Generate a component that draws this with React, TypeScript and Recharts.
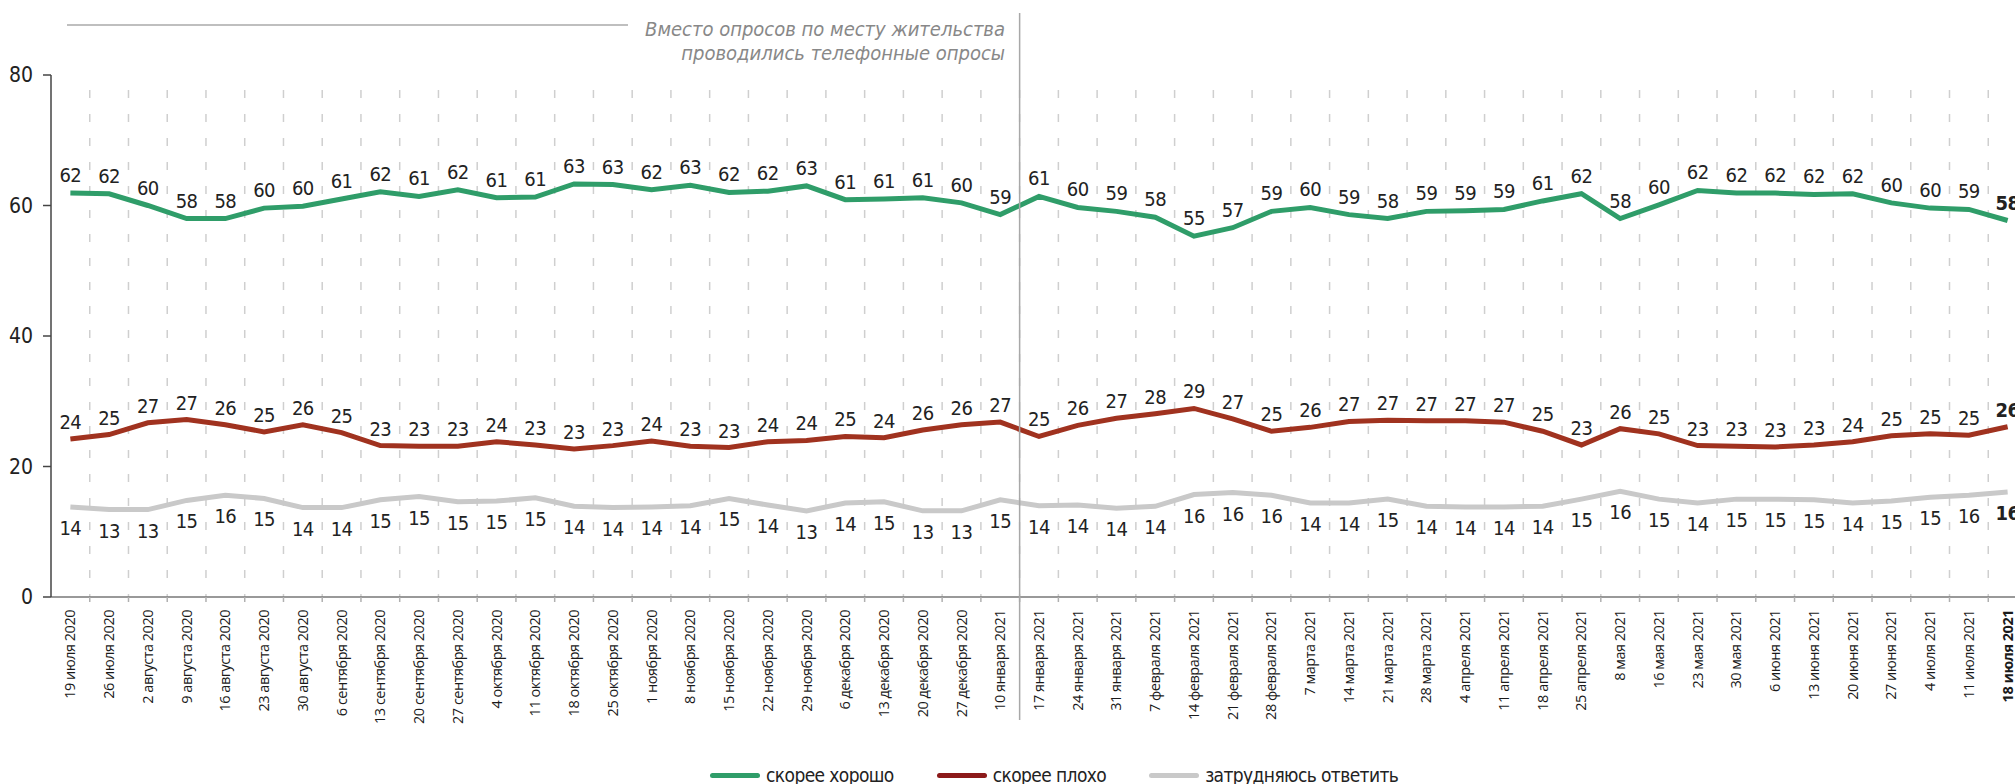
import React from 'react';
import { LineChart, Line, XAxis, YAxis, CartesianGrid, LabelList } from 'recharts';

const dates = [
  '19 июля 2020', '26 июля 2020', '2 августа 2020', '9 августа 2020', '16 августа 2020',
  '23 августа 2020', '30 августа 2020', '6 сентября 2020', '13 сентября 2020', '20 сентября 2020',
  '27 сентября 2020', '4 октября 2020', '11 октября 2020', '18 октября 2020', '25 октября 2020',
  '1 ноября 2020', '8 ноября 2020', '15 ноября 2020', '22 ноября 2020', '29 ноября 2020',
  '6 декабря 2020', '13 декабря 2020', '20 декабря 2020', '27 декабря 2020', '10 января 2021',
  '17 января 2021', '24 января 2021', '31 января 2021', '7 февраля 2021', '14 февраля 2021',
  '21 февраля 2021', '28 февраля 2021', '7 марта 2021', '14 марта 2021', '21 марта 2021',
  '28 марта 2021', '4 апреля 2021', '11 апреля 2021', '18 апреля 2021', '25 апреля 2021',
  '8 мая 2021', '16 мая 2021', '23 мая 2021', '30 мая 2021', '6 июня 2021',
  '13 июня 2021', '20 июня 2021', '27 июня 2021', '4 июля 2021', '11 июля 2021',
  '18 июля 2021',
];

// скорее хорошо
const good = [
  61.9, 61.8, 60.0, 58.0, 58.0, 59.6, 59.9, 61.0, 62.1, 61.4,
  62.4, 61.2, 61.3, 63.3, 63.2, 62.4, 63.1, 62.0, 62.2, 63.0,
  60.9, 61.0, 61.2, 60.4, 58.6, 61.4, 59.7, 59.1, 58.2, 55.3,
  56.6, 59.1, 59.7, 58.6, 58.0, 59.1, 59.2, 59.4, 60.7, 61.8,
  58.0, 60.1, 62.3, 61.9, 61.9, 61.7, 61.8, 60.4, 59.6, 59.4,
  57.7,
];

// скорее плохо
const bad = [
  24.2, 24.9, 26.7, 27.2, 26.4, 25.3, 26.4, 25.2, 23.2, 23.1,
  23.1, 23.8, 23.3, 22.7, 23.2, 23.9, 23.1, 22.9, 23.8, 24.0,
  24.6, 24.4, 25.6, 26.4, 26.8, 24.6, 26.3, 27.4, 28.1, 28.9,
  27.3, 25.4, 26.0, 26.9, 27.1, 27.0, 27.0, 26.8, 25.4, 23.3,
  25.8, 25.0, 23.2, 23.1, 23.0, 23.3, 23.8, 24.7, 25.0, 24.8,
  26.1,
];

// затрудняюсь ответить
const hard = [
  13.8, 13.4, 13.4, 14.8, 15.6, 15.1, 13.7, 13.7, 14.9, 15.4,
  14.6, 14.7, 15.2, 13.9, 13.7, 13.8, 14.0, 15.1, 14.1, 13.2,
  14.4, 14.6, 13.2, 13.2, 14.9, 14.0, 14.1, 13.6, 13.9, 15.7,
  16.0, 15.6, 14.4, 14.4, 15.0, 13.9, 13.8, 13.8, 13.9, 15.0,
  16.2, 15.0, 14.4, 15.0, 15.0, 14.9, 14.4, 14.7, 15.3, 15.6,
  16.1,
];

const yTicks = [0, 20, 40, 60, 80];

const series = [
  { key: 'good', name: 'скорее хорошо', color: '#2f9d69', legend: '#2f9d69', labelDy: -11 },
  { key: 'bad', name: 'скорее плохо', color: '#a0321f', legend: '#8c1a1a', labelDy: -10 },
  { key: 'hard', name: 'затрудняюсь ответить', color: '#c9c9c9', legend: '#c9c9c9', labelDy: 28 },
];

const data = dates.map((date, i) => ({ date, good: good[i], bad: bad[i], hard: hard[i] }));

const N = dates.length;
const CHART_W = 2040;
const CHART_H = 784;
const PLOT_LEFT = 51;
const PLOT_RIGHT_MARGIN = 13;
const PLOT_W = CHART_W - PLOT_LEFT - PLOT_RIGHT_MARGIN;
const STEP = PLOT_W / N;

const NARROW = "'Liberation Sans Narrow', 'DejaVu Sans Condensed', 'Arial Narrow', sans-serif";
const SANS = "'Open Sans', 'Noto Sans', sans-serif";

const DateTick = (props: any) => {
  const { x, y, payload, index } = props;
  const last = index === N - 1;
  return (
    <g>
      <line x1={x + STEP / 2} x2={x + STEP / 2} y1={y} y2={y + 5} stroke="#b0b0b0" strokeWidth={1.5} />
      <text
        x={x + 5}
        y={y + 13}
        transform={`rotate(-90 ${x + 5} ${y + 13})`}
        textAnchor="end"
        fontFamily={SANS}
        fontSize={14.5}
        letterSpacing={-0.5}
        fontWeight={last ? 700 : 400}
        fill="#1a1a1a"
      >
        {payload.value}
      </text>
    </g>
  );
};

const makeLabel = (dy: number) => (props: any) => {
  const { x, y, value, index } = props;
  if (x == null || y == null) return null;
  const last = index === N - 1;
  return (
    <text
      x={x}
      y={y + dy}
      textAnchor="middle"
      fontFamily={NARROW}
      fontSize={20}
      letterSpacing={-0.5}
      fontWeight={last ? 700 : 400}
      fill="#222"
    >
      {Math.round(value)}
    </text>
  );
};

export default function App() {
  const splitX = PLOT_LEFT + 25 * STEP;
  return (
    <div
      style={{
        position: 'absolute',
        left: 0,
        top: 0,
        width: 2015,
        height: 784,
        overflow: 'hidden',
        background: '#fff',
      }}
    >
      <LineChart
        width={CHART_W}
        height={CHART_H}
        data={data}
        margin={{ top: 75, right: PLOT_RIGHT_MARGIN, bottom: 57, left: 0 }}
      >
        <CartesianGrid
          horizontal={false}
          stroke="#cfcfcf"
          strokeWidth={1.5}
          strokeDasharray="0 15 8 1"
          verticalCoordinatesGenerator={({ offset }: any) => {
            const left = offset?.left ?? PLOT_LEFT;
            const w = offset?.width ?? PLOT_W;
            return dates.slice(1).map((_, k) => left + ((k + 1) * w) / N);
          }}
        />
        <XAxis
          dataKey="date"
          interval={0}
          height={130}
          tickSize={0}
          tickMargin={0}
          padding={{ left: STEP / 2, right: STEP / 2 }}
          axisLine={{ stroke: '#777', strokeWidth: 1.5 }}
          tick={<DateTick />}
        />
        <YAxis
          type="number"
          domain={[0, 80]}
          ticks={yTicks}
          width={PLOT_LEFT}
          tickSize={8}
          tickMargin={10}
          axisLine={{ stroke: '#444', strokeWidth: 1.5 }}
          tickLine={{ stroke: '#444', strokeWidth: 1.5 }}
          tick={{ fontFamily: NARROW, fontSize: 21, fill: '#222' }}
        />
        {series.map((s) => (
          <Line
            key={s.key}
            type="linear"
            dataKey={s.key}
            name={s.name}
            stroke={s.color}
            strokeWidth={5}
            dot={false}
            activeDot={false}
            isAnimationActive={false}
          >
            <LabelList dataKey={s.key} content={makeLabel(s.labelDy)} />
          </Line>
        ))}
      </LineChart>

      <svg
        width={2015}
        height={784}
        style={{ position: 'absolute', left: 0, top: 0, pointerEvents: 'none' }}
      >
        <line x1={67} x2={628} y1={25} y2={25} stroke="#aaa" strokeWidth={1.5} />
        <line x1={splitX} x2={splitX} y1={13} y2={720} stroke="#a8a8a8" strokeWidth={1.5} />
        <text
          x={1005}
          y={36}
          textAnchor="end"
          fontFamily={NARROW}
          fontStyle="italic"
          fontSize={20}
          fill="#888"
        >
          Вместо опросов по месту жительства
        </text>
        <text
          x={1005}
          y={60}
          textAnchor="end"
          fontFamily={NARROW}
          fontStyle="italic"
          fontSize={20}
          fill="#888"
        >
          проводились телефонные опросы
        </text>
      </svg>

      <div
        style={{
          position: 'absolute',
          left: 710,
          top: 762,
          display: 'flex',
          alignItems: 'center',
          fontFamily: NARROW,
          fontSize: 19,
          letterSpacing: -0.6,
          color: '#222',
          lineHeight: '26px',
        }}
      >
        {series.map((s) => (
          <div key={s.key} style={{ display: 'flex', alignItems: 'center', marginRight: 43 }}>
            <span
              style={{
                display: 'inline-block',
                width: 50,
                height: 5,
                borderRadius: 3,
                background: s.legend,
                marginRight: 6,
              }}
            />
            <span>{s.name}</span>
          </div>
        ))}
      </div>
    </div>
  );
}
